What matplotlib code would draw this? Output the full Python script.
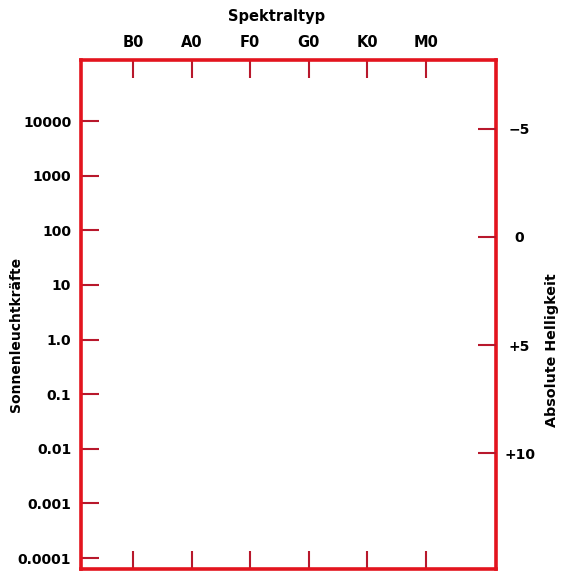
import matplotlib.pyplot as plt

# --- Data ---
spectral_types = ["B0", "A0", "F0", "G0", "K0", "M0"]
lum_ticks = [1e4, 1e3, 1e2, 1e1, 1.0, 0.1, 0.01, 0.001, 0.0001]
lum_labels = ["10000", "1000", "100", "10", "1.0", "0.1", "0.01", "0.001", "0.0001"]
mag_ticks = [-5, 0, 5, 10]
mag_labels = ["\u22125", "0", "+5", "+10"]

frame_red = "#e3141e"
tick_red = "#b8182c"

fig = plt.figure(figsize=(5.61, 5.75), dpi=100)
ax = fig.add_axes([0.1444, 0.0096, 0.7398, 0.886])

# spectral axis (top), ticks point inward on top and bottom
ax.set_xlim(-0.887, 6.195)
ax.set_xticks(range(len(spectral_types)))
ax.set_xticklabels(spectral_types)
ax.tick_params(axis="x", which="both", direction="in", length=13, width=1.5,
               color=tick_red, top=True, bottom=True,
               labeltop=True, labelbottom=False, pad=7, labelsize=10.5)

# luminosity axis (left), log scale
ax.set_yscale("log")
ax.set_ylim(10 ** -4.21, 10 ** 5.117)
ax.set_yticks(lum_ticks)
ax.set_yticklabels(lum_labels)
ax.minorticks_off()
ax.tick_params(axis="y", direction="in", length=13, width=1.5, color=tick_red,
               left=True, right=False, pad=7, labelsize=10)

for s in ax.spines.values():
    s.set_color(frame_red)
    s.set_linewidth(2.6)

# absolute magnitude axis (right)
ax2 = ax.twinx()
ax2.set_ylim(15.39, -8.19)
ax2.set_yticks(mag_ticks)
ax2.set_yticklabels(mag_labels)
ax2.tick_params(axis="y", direction="in", length=13, width=1.5, color=tick_red,
                pad=17, labelsize=10)
for s in ax2.spines.values():
    s.set_visible(False)

for lbl in ax.get_xticklabels() + ax.get_yticklabels():
    lbl.set_fontweight("bold")
for lbl in ax2.get_yticklabels():
    lbl.set_fontweight("bold")
    lbl.set_horizontalalignment("center")

fig.text(277 / 561, 1 - 16 / 575, "Spektraltyp", ha="center", va="center",
         fontsize=10.5, fontweight="bold")
fig.text(16 / 561, 1 - 334 / 575, "Sonnenleuchtkräfte", rotation=90,
         ha="center", va="center", fontsize=10, fontweight="bold")
fig.text(552 / 561, 1 - 350 / 575, "Absolute Helligkeit", rotation=90,
         ha="center", va="center", fontsize=10.3, fontweight="bold")

fig.savefig("out.png", dpi=100)
